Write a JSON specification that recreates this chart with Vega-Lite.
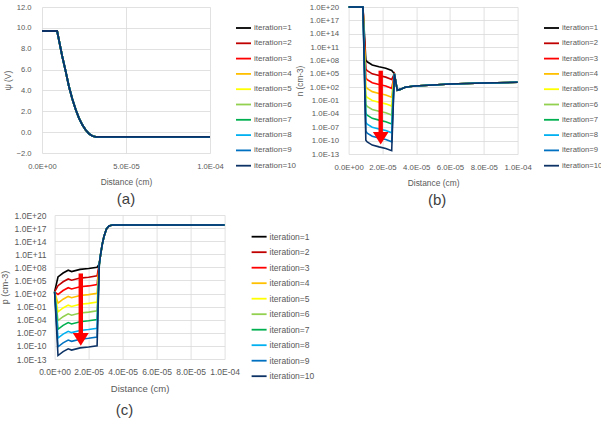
{
"$schema":"https://vega.github.io/schema/vega-lite/v6.json",
"background":"white",
"padding":{"left":0,"top":3,"right":0,"bottom":0},
"config":{"font":"Liberation Sans","view":{"stroke":null},
"axis":{"grid":true,"gridColor":"#D9D9D9","gridWidth":0.8,"domain":false,"ticks":false,"labelColor":"#595959","titleColor":"#595959","titleFontWeight":"normal","labelFlush":false,"labelFont":"Liberation Sans","titleFont":"Liberation Sans"},
"legend":{"symbolType":"stroke","symbolSize":225,"symbolStrokeWidth":1.8,"labelColor":"#595959","padding":0,"labelOffset":2,"labelLimit":100,"labelFont":"Liberation Sans"},
"title":{"font":"Liberation Sans"}},
"datasets":{
"a":[
{"i":1,"x":0,"v":9.7},{"i":1,"x":9e-6,"v":9.7},{"i":1,"x":1e-5,"v":8.9},{"i":1,"x":1.2e-5,"v":7.3},{"i":1,"x":1.4e-5,"v":5.9},{"i":1,"x":1.6e-5,"v":4.4},{"i":1,"x":1.8e-5,"v":3.2},{"i":1,"x":2e-5,"v":2.2},{"i":1,"x":2.2e-5,"v":1.35},{"i":1,"x":2.4e-5,"v":0.7},{"i":1,"x":2.6e-5,"v":0.2},{"i":1,"x":2.8e-5,"v":-0.15},{"i":1,"x":3e-5,"v":-0.37},{"i":1,"x":3.2e-5,"v":-0.45},{"i":1,"x":1e-4,"v":-0.45},
{"i":2,"x":0,"v":9.7},{"i":2,"x":9e-6,"v":9.7},{"i":2,"x":1e-5,"v":8.9},{"i":2,"x":1.2e-5,"v":7.3},{"i":2,"x":1.4e-5,"v":5.9},{"i":2,"x":1.6e-5,"v":4.4},{"i":2,"x":1.8e-5,"v":3.2},{"i":2,"x":2e-5,"v":2.2},{"i":2,"x":2.2e-5,"v":1.35},{"i":2,"x":2.4e-5,"v":0.7},{"i":2,"x":2.6e-5,"v":0.2},{"i":2,"x":2.8e-5,"v":-0.15},{"i":2,"x":3e-5,"v":-0.37},{"i":2,"x":3.2e-5,"v":-0.45},{"i":2,"x":1e-4,"v":-0.45},
{"i":3,"x":0,"v":9.7},{"i":3,"x":9e-6,"v":9.7},{"i":3,"x":1e-5,"v":8.9},{"i":3,"x":1.2e-5,"v":7.3},{"i":3,"x":1.4e-5,"v":5.9},{"i":3,"x":1.6e-5,"v":4.4},{"i":3,"x":1.8e-5,"v":3.2},{"i":3,"x":2e-5,"v":2.2},{"i":3,"x":2.2e-5,"v":1.35},{"i":3,"x":2.4e-5,"v":0.7},{"i":3,"x":2.6e-5,"v":0.2},{"i":3,"x":2.8e-5,"v":-0.15},{"i":3,"x":3e-5,"v":-0.37},{"i":3,"x":3.2e-5,"v":-0.45},{"i":3,"x":1e-4,"v":-0.45},
{"i":4,"x":0,"v":9.7},{"i":4,"x":9e-6,"v":9.7},{"i":4,"x":1e-5,"v":8.9},{"i":4,"x":1.2e-5,"v":7.3},{"i":4,"x":1.4e-5,"v":5.9},{"i":4,"x":1.6e-5,"v":4.4},{"i":4,"x":1.8e-5,"v":3.2},{"i":4,"x":2e-5,"v":2.2},{"i":4,"x":2.2e-5,"v":1.35},{"i":4,"x":2.4e-5,"v":0.7},{"i":4,"x":2.6e-5,"v":0.2},{"i":4,"x":2.8e-5,"v":-0.15},{"i":4,"x":3e-5,"v":-0.37},{"i":4,"x":3.2e-5,"v":-0.45},{"i":4,"x":1e-4,"v":-0.45},
{"i":5,"x":0,"v":9.7},{"i":5,"x":9e-6,"v":9.7},{"i":5,"x":1e-5,"v":8.9},{"i":5,"x":1.2e-5,"v":7.3},{"i":5,"x":1.4e-5,"v":5.9},{"i":5,"x":1.6e-5,"v":4.4},{"i":5,"x":1.8e-5,"v":3.2},{"i":5,"x":2e-5,"v":2.2},{"i":5,"x":2.2e-5,"v":1.35},{"i":5,"x":2.4e-5,"v":0.7},{"i":5,"x":2.6e-5,"v":0.2},{"i":5,"x":2.8e-5,"v":-0.15},{"i":5,"x":3e-5,"v":-0.37},{"i":5,"x":3.2e-5,"v":-0.45},{"i":5,"x":1e-4,"v":-0.45},
{"i":6,"x":0,"v":9.7},{"i":6,"x":9e-6,"v":9.7},{"i":6,"x":1e-5,"v":8.9},{"i":6,"x":1.2e-5,"v":7.3},{"i":6,"x":1.4e-5,"v":5.9},{"i":6,"x":1.6e-5,"v":4.4},{"i":6,"x":1.8e-5,"v":3.2},{"i":6,"x":2e-5,"v":2.2},{"i":6,"x":2.2e-5,"v":1.35},{"i":6,"x":2.4e-5,"v":0.7},{"i":6,"x":2.6e-5,"v":0.2},{"i":6,"x":2.8e-5,"v":-0.15},{"i":6,"x":3e-5,"v":-0.37},{"i":6,"x":3.2e-5,"v":-0.45},{"i":6,"x":1e-4,"v":-0.45},
{"i":7,"x":0,"v":9.7},{"i":7,"x":9e-6,"v":9.7},{"i":7,"x":1e-5,"v":8.9},{"i":7,"x":1.2e-5,"v":7.3},{"i":7,"x":1.4e-5,"v":5.9},{"i":7,"x":1.6e-5,"v":4.4},{"i":7,"x":1.8e-5,"v":3.2},{"i":7,"x":2e-5,"v":2.2},{"i":7,"x":2.2e-5,"v":1.35},{"i":7,"x":2.4e-5,"v":0.7},{"i":7,"x":2.6e-5,"v":0.2},{"i":7,"x":2.8e-5,"v":-0.15},{"i":7,"x":3e-5,"v":-0.37},{"i":7,"x":3.2e-5,"v":-0.45},{"i":7,"x":1e-4,"v":-0.45},
{"i":8,"x":0,"v":9.7},{"i":8,"x":9e-6,"v":9.7},{"i":8,"x":1e-5,"v":8.9},{"i":8,"x":1.2e-5,"v":7.3},{"i":8,"x":1.4e-5,"v":5.9},{"i":8,"x":1.6e-5,"v":4.4},{"i":8,"x":1.8e-5,"v":3.2},{"i":8,"x":2e-5,"v":2.2},{"i":8,"x":2.2e-5,"v":1.35},{"i":8,"x":2.4e-5,"v":0.7},{"i":8,"x":2.6e-5,"v":0.2},{"i":8,"x":2.8e-5,"v":-0.15},{"i":8,"x":3e-5,"v":-0.37},{"i":8,"x":3.2e-5,"v":-0.45},{"i":8,"x":1e-4,"v":-0.45},
{"i":9,"x":0,"v":9.7},{"i":9,"x":9e-6,"v":9.7},{"i":9,"x":1e-5,"v":8.9},{"i":9,"x":1.2e-5,"v":7.3},{"i":9,"x":1.4e-5,"v":5.9},{"i":9,"x":1.6e-5,"v":4.4},{"i":9,"x":1.8e-5,"v":3.2},{"i":9,"x":2e-5,"v":2.2},{"i":9,"x":2.2e-5,"v":1.35},{"i":9,"x":2.4e-5,"v":0.7},{"i":9,"x":2.6e-5,"v":0.2},{"i":9,"x":2.8e-5,"v":-0.15},{"i":9,"x":3e-5,"v":-0.37},{"i":9,"x":3.2e-5,"v":-0.45},{"i":9,"x":1e-4,"v":-0.45},
{"i":10,"x":0,"v":9.7},{"i":10,"x":9e-6,"v":9.7},{"i":10,"x":1e-5,"v":8.9},{"i":10,"x":1.2e-5,"v":7.3},{"i":10,"x":1.4e-5,"v":5.9},{"i":10,"x":1.6e-5,"v":4.4},{"i":10,"x":1.8e-5,"v":3.2},{"i":10,"x":2e-5,"v":2.2},{"i":10,"x":2.2e-5,"v":1.35},{"i":10,"x":2.4e-5,"v":0.7},{"i":10,"x":2.6e-5,"v":0.2},{"i":10,"x":2.8e-5,"v":-0.15},{"i":10,"x":3e-5,"v":-0.37},{"i":10,"x":3.2e-5,"v":-0.45},{"i":10,"x":1e-4,"v":-0.45}
],
"b":[
{"i":1,"x":0,"v":1e20},{"i":1,"x":8.5e-6,"v":1e20},{"i":1,"x":1.02e-5,"v":1.3e8},{"i":1,"x":1.1e-5,"v":5e7},{"i":1,"x":1.4e-5,"v":1e7},{"i":1,"x":1.8e-5,"v":4e6},{"i":1,"x":2.2e-5,"v":1.8e6},{"i":1,"x":2.55e-5,"v":5.6e5},{"i":1,"x":2.71e-5,"v":1e5},{"i":1,"x":2.88e-5,"v":20},{"i":1,"x":3.05e-5,"v":32},{"i":1,"x":3.35e-5,"v":100},{"i":1,"x":3.9e-5,"v":180},{"i":1,"x":5e-5,"v":320},{"i":1,"x":6e-5,"v":500},{"i":1,"x":8e-5,"v":890},{"i":1,"x":1e-4,"v":1260},
{"i":2,"x":0,"v":1e20},{"i":2,"x":8.5e-6,"v":1e20},{"i":2,"x":1.02e-5,"v":1.3e6},{"i":2,"x":1.1e-5,"v":5e5},{"i":2,"x":1.4e-5,"v":1e5},{"i":2,"x":1.8e-5,"v":4e4},{"i":2,"x":2.2e-5,"v":1.8e4},{"i":2,"x":2.55e-5,"v":5.6e3},{"i":2,"x":2.71e-5,"v":1e5},{"i":2,"x":2.88e-5,"v":20},{"i":2,"x":3.05e-5,"v":32},{"i":2,"x":3.35e-5,"v":100},{"i":2,"x":3.9e-5,"v":180},{"i":2,"x":5e-5,"v":320},{"i":2,"x":6e-5,"v":500},{"i":2,"x":8e-5,"v":890},{"i":2,"x":1e-4,"v":1260},
{"i":3,"x":0,"v":1e20},{"i":3,"x":8.5e-6,"v":1e20},{"i":3,"x":1.02e-5,"v":1.3e4},{"i":3,"x":1.1e-5,"v":5e3},{"i":3,"x":1.4e-5,"v":1e3},{"i":3,"x":1.8e-5,"v":400},{"i":3,"x":2.2e-5,"v":180},{"i":3,"x":2.55e-5,"v":56},{"i":3,"x":2.71e-5,"v":1e5},{"i":3,"x":2.88e-5,"v":20},{"i":3,"x":3.05e-5,"v":32},{"i":3,"x":3.35e-5,"v":100},{"i":3,"x":3.9e-5,"v":180},{"i":3,"x":5e-5,"v":320},{"i":3,"x":6e-5,"v":500},{"i":3,"x":8e-5,"v":890},{"i":3,"x":1e-4,"v":1260},
{"i":4,"x":0,"v":1e20},{"i":4,"x":8.5e-6,"v":1e20},{"i":4,"x":1.02e-5,"v":130},{"i":4,"x":1.1e-5,"v":50},{"i":4,"x":1.4e-5,"v":10},{"i":4,"x":1.8e-5,"v":4},{"i":4,"x":2.2e-5,"v":1.8},{"i":4,"x":2.55e-5,"v":0.56},{"i":4,"x":2.71e-5,"v":1e5},{"i":4,"x":2.88e-5,"v":20},{"i":4,"x":3.05e-5,"v":32},{"i":4,"x":3.35e-5,"v":100},{"i":4,"x":3.9e-5,"v":180},{"i":4,"x":5e-5,"v":320},{"i":4,"x":6e-5,"v":500},{"i":4,"x":8e-5,"v":890},{"i":4,"x":1e-4,"v":1260},
{"i":5,"x":0,"v":1e20},{"i":5,"x":8.5e-6,"v":1e20},{"i":5,"x":1.02e-5,"v":1.3},{"i":5,"x":1.1e-5,"v":0.5},{"i":5,"x":1.4e-5,"v":0.1},{"i":5,"x":1.8e-5,"v":0.04},{"i":5,"x":2.2e-5,"v":0.018},{"i":5,"x":2.55e-5,"v":0.0056},{"i":5,"x":2.71e-5,"v":1e5},{"i":5,"x":2.88e-5,"v":20},{"i":5,"x":3.05e-5,"v":32},{"i":5,"x":3.35e-5,"v":100},{"i":5,"x":3.9e-5,"v":180},{"i":5,"x":5e-5,"v":320},{"i":5,"x":6e-5,"v":500},{"i":5,"x":8e-5,"v":890},{"i":5,"x":1e-4,"v":1260},
{"i":6,"x":0,"v":1e20},{"i":6,"x":8.5e-6,"v":1e20},{"i":6,"x":1.02e-5,"v":1.3e-2},{"i":6,"x":1.1e-5,"v":5e-3},{"i":6,"x":1.4e-5,"v":1e-3},{"i":6,"x":1.8e-5,"v":4e-4},{"i":6,"x":2.2e-5,"v":1.8e-4},{"i":6,"x":2.55e-5,"v":5.6e-5},{"i":6,"x":2.71e-5,"v":1e5},{"i":6,"x":2.88e-5,"v":20},{"i":6,"x":3.05e-5,"v":32},{"i":6,"x":3.35e-5,"v":100},{"i":6,"x":3.9e-5,"v":180},{"i":6,"x":5e-5,"v":320},{"i":6,"x":6e-5,"v":500},{"i":6,"x":8e-5,"v":890},{"i":6,"x":1e-4,"v":1260},
{"i":7,"x":0,"v":1e20},{"i":7,"x":8.5e-6,"v":1e20},{"i":7,"x":1.02e-5,"v":1.3e-4},{"i":7,"x":1.1e-5,"v":5e-5},{"i":7,"x":1.4e-5,"v":1e-5},{"i":7,"x":1.8e-5,"v":4e-6},{"i":7,"x":2.2e-5,"v":1.8e-6},{"i":7,"x":2.55e-5,"v":5.6e-7},{"i":7,"x":2.71e-5,"v":1e5},{"i":7,"x":2.88e-5,"v":20},{"i":7,"x":3.05e-5,"v":32},{"i":7,"x":3.35e-5,"v":100},{"i":7,"x":3.9e-5,"v":180},{"i":7,"x":5e-5,"v":320},{"i":7,"x":6e-5,"v":500},{"i":7,"x":8e-5,"v":890},{"i":7,"x":1e-4,"v":1260},
{"i":8,"x":0,"v":1e20},{"i":8,"x":8.5e-6,"v":1e20},{"i":8,"x":1.02e-5,"v":1.3e-6},{"i":8,"x":1.1e-5,"v":5e-7},{"i":8,"x":1.4e-5,"v":1e-7},{"i":8,"x":1.8e-5,"v":4e-8},{"i":8,"x":2.2e-5,"v":1.8e-8},{"i":8,"x":2.55e-5,"v":5.6e-9},{"i":8,"x":2.71e-5,"v":1e5},{"i":8,"x":2.88e-5,"v":20},{"i":8,"x":3.05e-5,"v":32},{"i":8,"x":3.35e-5,"v":100},{"i":8,"x":3.9e-5,"v":180},{"i":8,"x":5e-5,"v":320},{"i":8,"x":6e-5,"v":500},{"i":8,"x":8e-5,"v":890},{"i":8,"x":1e-4,"v":1260},
{"i":9,"x":0,"v":1e20},{"i":9,"x":8.5e-6,"v":1e20},{"i":9,"x":1.02e-5,"v":1.3e-8},{"i":9,"x":1.1e-5,"v":5e-9},{"i":9,"x":1.4e-5,"v":1e-9},{"i":9,"x":1.8e-5,"v":4e-10},{"i":9,"x":2.2e-5,"v":1.8e-10},{"i":9,"x":2.55e-5,"v":5.6e-11},{"i":9,"x":2.71e-5,"v":1e5},{"i":9,"x":2.88e-5,"v":20},{"i":9,"x":3.05e-5,"v":32},{"i":9,"x":3.35e-5,"v":100},{"i":9,"x":3.9e-5,"v":180},{"i":9,"x":5e-5,"v":320},{"i":9,"x":6e-5,"v":500},{"i":9,"x":8e-5,"v":890},{"i":9,"x":1e-4,"v":1260},
{"i":10,"x":0,"v":1e20},{"i":10,"x":8.5e-6,"v":1e20},{"i":10,"x":1.02e-5,"v":1.3e-10},{"i":10,"x":1.1e-5,"v":5e-11},{"i":10,"x":1.4e-5,"v":1e-11},{"i":10,"x":1.8e-5,"v":4e-12},{"i":10,"x":2.2e-5,"v":1.8e-12},{"i":10,"x":2.55e-5,"v":5.6e-13},{"i":10,"x":2.71e-5,"v":1e5},{"i":10,"x":2.88e-5,"v":20},{"i":10,"x":3.05e-5,"v":32},{"i":10,"x":3.35e-5,"v":100},{"i":10,"x":3.9e-5,"v":180},{"i":10,"x":5e-5,"v":320},{"i":10,"x":6e-5,"v":500},{"i":10,"x":8e-5,"v":890},{"i":10,"x":1e-4,"v":1260}
],
"c":[
{"i":1,"x":0,"v":250},{"i":1,"x":2e-6,"v":6.3e5},{"i":1,"x":5e-6,"v":5e6},{"i":1,"x":8e-6,"v":2.2e7},{"i":1,"x":1e-5,"v":1.1e7},{"i":1,"x":1.5e-5,"v":3.5e7},{"i":1,"x":2e-5,"v":5.6e7},{"i":1,"x":2.5e-5,"v":1.1e8},{"i":1,"x":2.63e-5,"v":6.3e8},{"i":1,"x":2.7e-5,"v":6.3e10},{"i":1,"x":2.8e-5,"v":1.6e13},{"i":1,"x":2.9e-5,"v":1e15},{"i":1,"x":3.05e-5,"v":6.3e16},{"i":1,"x":3.2e-5,"v":3.2e17},{"i":1,"x":3.4e-5,"v":5e17},{"i":1,"x":1e-4,"v":5e17},
{"i":2,"x":0,"v":250},{"i":2,"x":2e-6,"v":6.3e3},{"i":2,"x":5e-6,"v":5e4},{"i":2,"x":8e-6,"v":2.2e5},{"i":2,"x":1e-5,"v":1.1e5},{"i":2,"x":1.5e-5,"v":3.5e5},{"i":2,"x":2e-5,"v":5.6e5},{"i":2,"x":2.5e-5,"v":1.1e6},{"i":2,"x":2.63e-5,"v":6.3e8},{"i":2,"x":2.7e-5,"v":6.3e10},{"i":2,"x":2.8e-5,"v":1.6e13},{"i":2,"x":2.9e-5,"v":1e15},{"i":2,"x":3.05e-5,"v":6.3e16},{"i":2,"x":3.2e-5,"v":3.2e17},{"i":2,"x":3.4e-5,"v":5e17},{"i":2,"x":1e-4,"v":5e17},
{"i":3,"x":0,"v":250},{"i":3,"x":2e-6,"v":63},{"i":3,"x":5e-6,"v":500},{"i":3,"x":8e-6,"v":2.2e3},{"i":3,"x":1e-5,"v":1.1e3},{"i":3,"x":1.5e-5,"v":3.5e3},{"i":3,"x":2e-5,"v":5.6e3},{"i":3,"x":2.5e-5,"v":1.1e4},{"i":3,"x":2.63e-5,"v":6.3e8},{"i":3,"x":2.7e-5,"v":6.3e10},{"i":3,"x":2.8e-5,"v":1.6e13},{"i":3,"x":2.9e-5,"v":1e15},{"i":3,"x":3.05e-5,"v":6.3e16},{"i":3,"x":3.2e-5,"v":3.2e17},{"i":3,"x":3.4e-5,"v":5e17},{"i":3,"x":1e-4,"v":5e17},
{"i":4,"x":0,"v":250},{"i":4,"x":2e-6,"v":0.63},{"i":4,"x":5e-6,"v":5},{"i":4,"x":8e-6,"v":22},{"i":4,"x":1e-5,"v":11},{"i":4,"x":1.5e-5,"v":35},{"i":4,"x":2e-5,"v":56},{"i":4,"x":2.5e-5,"v":110},{"i":4,"x":2.63e-5,"v":6.3e8},{"i":4,"x":2.7e-5,"v":6.3e10},{"i":4,"x":2.8e-5,"v":1.6e13},{"i":4,"x":2.9e-5,"v":1e15},{"i":4,"x":3.05e-5,"v":6.3e16},{"i":4,"x":3.2e-5,"v":3.2e17},{"i":4,"x":3.4e-5,"v":5e17},{"i":4,"x":1e-4,"v":5e17},
{"i":5,"x":0,"v":250},{"i":5,"x":2e-6,"v":6.3e-3},{"i":5,"x":5e-6,"v":0.05},{"i":5,"x":8e-6,"v":0.22},{"i":5,"x":1e-5,"v":0.11},{"i":5,"x":1.5e-5,"v":0.35},{"i":5,"x":2e-5,"v":0.56},{"i":5,"x":2.5e-5,"v":1.1},{"i":5,"x":2.63e-5,"v":6.3e8},{"i":5,"x":2.7e-5,"v":6.3e10},{"i":5,"x":2.8e-5,"v":1.6e13},{"i":5,"x":2.9e-5,"v":1e15},{"i":5,"x":3.05e-5,"v":6.3e16},{"i":5,"x":3.2e-5,"v":3.2e17},{"i":5,"x":3.4e-5,"v":5e17},{"i":5,"x":1e-4,"v":5e17},
{"i":6,"x":0,"v":250},{"i":6,"x":2e-6,"v":6.3e-5},{"i":6,"x":5e-6,"v":5e-4},{"i":6,"x":8e-6,"v":2.2e-3},{"i":6,"x":1e-5,"v":1.1e-3},{"i":6,"x":1.5e-5,"v":3.5e-3},{"i":6,"x":2e-5,"v":5.6e-3},{"i":6,"x":2.5e-5,"v":1.1e-2},{"i":6,"x":2.63e-5,"v":6.3e8},{"i":6,"x":2.7e-5,"v":6.3e10},{"i":6,"x":2.8e-5,"v":1.6e13},{"i":6,"x":2.9e-5,"v":1e15},{"i":6,"x":3.05e-5,"v":6.3e16},{"i":6,"x":3.2e-5,"v":3.2e17},{"i":6,"x":3.4e-5,"v":5e17},{"i":6,"x":1e-4,"v":5e17},
{"i":7,"x":0,"v":250},{"i":7,"x":2e-6,"v":6.3e-7},{"i":7,"x":5e-6,"v":5e-6},{"i":7,"x":8e-6,"v":2.2e-5},{"i":7,"x":1e-5,"v":1.1e-5},{"i":7,"x":1.5e-5,"v":3.5e-5},{"i":7,"x":2e-5,"v":5.6e-5},{"i":7,"x":2.5e-5,"v":1.1e-4},{"i":7,"x":2.63e-5,"v":6.3e8},{"i":7,"x":2.7e-5,"v":6.3e10},{"i":7,"x":2.8e-5,"v":1.6e13},{"i":7,"x":2.9e-5,"v":1e15},{"i":7,"x":3.05e-5,"v":6.3e16},{"i":7,"x":3.2e-5,"v":3.2e17},{"i":7,"x":3.4e-5,"v":5e17},{"i":7,"x":1e-4,"v":5e17},
{"i":8,"x":0,"v":250},{"i":8,"x":2e-6,"v":6.3e-9},{"i":8,"x":5e-6,"v":5e-8},{"i":8,"x":8e-6,"v":2.2e-7},{"i":8,"x":1e-5,"v":1.1e-7},{"i":8,"x":1.5e-5,"v":3.5e-7},{"i":8,"x":2e-5,"v":5.6e-7},{"i":8,"x":2.5e-5,"v":1.1e-6},{"i":8,"x":2.63e-5,"v":6.3e8},{"i":8,"x":2.7e-5,"v":6.3e10},{"i":8,"x":2.8e-5,"v":1.6e13},{"i":8,"x":2.9e-5,"v":1e15},{"i":8,"x":3.05e-5,"v":6.3e16},{"i":8,"x":3.2e-5,"v":3.2e17},{"i":8,"x":3.4e-5,"v":5e17},{"i":8,"x":1e-4,"v":5e17},
{"i":9,"x":0,"v":250},{"i":9,"x":2e-6,"v":6.3e-11},{"i":9,"x":5e-6,"v":5e-10},{"i":9,"x":8e-6,"v":2.2e-9},{"i":9,"x":1e-5,"v":1.1e-9},{"i":9,"x":1.5e-5,"v":3.5e-9},{"i":9,"x":2e-5,"v":5.6e-9},{"i":9,"x":2.5e-5,"v":1.1e-8},{"i":9,"x":2.63e-5,"v":6.3e8},{"i":9,"x":2.7e-5,"v":6.3e10},{"i":9,"x":2.8e-5,"v":1.6e13},{"i":9,"x":2.9e-5,"v":1e15},{"i":9,"x":3.05e-5,"v":6.3e16},{"i":9,"x":3.2e-5,"v":3.2e17},{"i":9,"x":3.4e-5,"v":5e17},{"i":9,"x":1e-4,"v":5e17},
{"i":10,"x":0,"v":250},{"i":10,"x":2e-6,"v":6.3e-13},{"i":10,"x":5e-6,"v":5e-12},{"i":10,"x":8e-6,"v":2.2e-11},{"i":10,"x":1e-5,"v":1.1e-11},{"i":10,"x":1.5e-5,"v":3.5e-11},{"i":10,"x":2e-5,"v":5.6e-11},{"i":10,"x":2.5e-5,"v":1.1e-10},{"i":10,"x":2.63e-5,"v":6.3e8},{"i":10,"x":2.7e-5,"v":6.3e10},{"i":10,"x":2.8e-5,"v":1.6e13},{"i":10,"x":2.9e-5,"v":1e15},{"i":10,"x":3.05e-5,"v":6.3e16},{"i":10,"x":3.2e-5,"v":3.2e17},{"i":10,"x":3.4e-5,"v":5e17},{"i":10,"x":1e-4,"v":5e17}
],
"arrowB":[{"x":1.9e-5,"top":5e5,"base":3.2e-9,"head":3.5e-10}],
"arrowC":[{"x":1.54e-5,"top":4e6,"base":3.2e-8,"head":3.2e-9}]
},
"spacing":3,
"resolve":{"scale":{"color":"independent"},"legend":{"color":"independent"}},
"vconcat":[
{"hconcat":[
{"width":168,"height":146,
"title":{"text":"(a)","orient":"bottom","fontSize":15,"fontWeight":"normal","color":"#404040","frame":"group","anchor":"middle","offset":6},
"data":{"name":"a"},
"mark":{"type":"line","strokeWidth":1.8},
"encoding":{
"x":{"field":"x","type":"quantitative","scale":{"domain":[0,0.0001],"nice":false},"axis":{"values":[0,0.00005,0.0001],"labelOverlap":false,"labelExpr":"replace(replace(format(datum.value, '.1e'), 'e', 'E'), regexp('([+-])(?=[0-9]$)'), '$&0')","title":"Distance (cm)","labelFontSize":7.6,"titleFontSize":8.4,"labelPadding":9.5,"titlePadding":7}},
"y":{"field":"v","type":"quantitative","scale":{"domain":[-2,12],"nice":false,"zero":false},"axis":{"values":[-2,0,2,4,6,8,10,12],"labelOverlap":false,"format":".1f","title":"ψ (V)","labelFontSize":7.6,"titleFontSize":8.4,"labelPadding":11,"titlePadding":3.7}},
"color":{"field":"i","type":"nominal","scale":{"domain":[1,2,3,4,5,6,7,8,9,10],"range":["#000000","#C00000","#FF0000","#FFC000","#FFFF00","#92D050","#00B050","#00B0F0","#0070C0","#0D3366"]},
"legend":{"orient":"none","legendX":193,"legendY":12.5,"title":null,"labelFontSize":8,"rowPadding":2.3,"labelExpr":"'iteration=' + datum.label"}}
}},
{"width":169,"height":147,
"title":{"text":"(b)","orient":"bottom","fontSize":15,"fontWeight":"normal","color":"#404040","frame":"group","anchor":"middle","dx":4,"offset":6},
"resolve":{"axis":{"x":"independent","y":"independent"}},
"layer":[
{"data":{"name":"b"},"mark":{"type":"line","strokeWidth":1.6},
"encoding":{
"x":{"field":"x","type":"quantitative","scale":{"domain":[0,0.0001],"nice":false},"axis":{"values":[0,0.00002,0.00004,0.00006,0.00008,0.0001],"labelOverlap":false,"labelExpr":"replace(replace(format(datum.value, '.1e'), 'e', 'E'), regexp('([+-])(?=[0-9]$)'), '$&0')","title":"Distance (cm)","labelFontSize":7.8,"titleFontSize":8.4,"labelPadding":9.5,"titlePadding":7}},
"y":{"field":"v","type":"quantitative","scale":{"type":"log","domain":[1e-13,1e20],"nice":false},"axis":{"values":[1e20,1e17,1e14,1e11,1e8,1e5,100,0.1,1e-4,1e-7,1e-10,1e-13],"labelOverlap":false,"labelExpr":"replace(replace(format(datum.value, '.1e'), 'e', 'E'), regexp('([+-])(?=[0-9]$)'), '$&0')","title":"n (cm-3)","labelFontSize":7.8,"titleFontSize":8.2,"labelPadding":10,"titlePadding":5}},
"color":{"field":"i","type":"nominal","scale":{"domain":[1,2,3,4,5,6,7,8,9,10],"range":["#000000","#C00000","#FF0000","#FFC000","#FFFF00","#92D050","#00B050","#00B0F0","#0070C0","#0D3366"]},
"legend":{"orient":"none","legendX":194.4,"legendY":12.5,"title":null,"labelFontSize":7.7,"rowPadding":2.3,"labelExpr":"'iteration=' + datum.label"}}
}},
{"data":{"name":"arrowB"},"mark":{"type":"rule","color":"#FF0000","strokeWidth":4.4},"encoding":{"x":{"field":"x","type":"quantitative","axis":null},"y":{"field":"top","type":"quantitative","axis":null},"y2":{"field":"base"}}},
{"data":{"name":"arrowB"},"mark":{"type":"point","shape":"M-1,-0.8L1,-0.8L0,0.8Z","filled":true,"color":"#FF0000","opacity":1,"size":245,"strokeWidth":0},"encoding":{"x":{"field":"x","type":"quantitative","axis":null},"y":{"field":"head","type":"quantitative","axis":null}}}
]}
],"spacing":138.6,"bounds":"flush","resolve":{"scale":{"color":"independent"},"legend":{"color":"independent"}}},
{"hconcat":[
{"width":1,"height":144,"data":{"values":[]},"mark":{"type":"point","opacity":0},"encoding":{}},
{"width":170,"height":144,
"title":{"text":"(c)","orient":"bottom","fontSize":15,"fontWeight":"normal","color":"#404040","frame":"group","anchor":"middle","dx":-15,"offset":10},
"resolve":{"axis":{"x":"independent","y":"independent"}},
"layer":[
{"data":{"name":"c"},"mark":{"type":"line","strokeWidth":1.6},
"encoding":{
"x":{"field":"x","type":"quantitative","scale":{"domain":[0,0.0001],"nice":false},"axis":{"values":[0,0.00002,0.00004,0.00006,0.00008,0.0001],"labelOverlap":false,"labelExpr":"replace(replace(format(datum.value, '.1e'), 'e', 'E'), regexp('([+-])(?=[0-9]$)'), '$&0')","title":"Distance (cm)","labelFontSize":8.5,"titleFontSize":9.5,"labelPadding":8.7,"titlePadding":7.5}},
"y":{"field":"v","type":"quantitative","scale":{"type":"log","domain":[1e-13,1e20],"nice":false},"axis":{"values":[1e20,1e17,1e14,1e11,1e8,1e5,100,0.1,1e-4,1e-7,1e-10,1e-13],"labelOverlap":false,"labelExpr":"replace(replace(format(datum.value, '.1e'), 'e', 'E'), regexp('([+-])(?=[0-9]$)'), '$&0')","title":"p (cm-3)","labelFontSize":8.5,"titleFontSize":9,"labelPadding":8.6,"titlePadding":4.8}},
"color":{"field":"i","type":"nominal","scale":{"domain":[1,2,3,4,5,6,7,8,9,10],"range":["#000000","#C00000","#FF0000","#FFC000","#FFFF00","#92D050","#00B050","#00B0F0","#0070C0","#0D3366"]},
"legend":{"orient":"none","legendX":196,"legendY":13.2,"title":null,"labelFontSize":8.5,"rowPadding":2.5,"labelExpr":"'iteration=' + datum.label"}}
}},
{"data":{"name":"arrowC"},"mark":{"type":"rule","color":"#FF0000","strokeWidth":4.4},"encoding":{"x":{"field":"x","type":"quantitative","axis":null},"y":{"field":"top","type":"quantitative","axis":null},"y2":{"field":"base"}}},
{"data":{"name":"arrowC"},"mark":{"type":"point","shape":"M-1,-0.8L1,-0.8L0,0.8Z","filled":true,"color":"#FF0000","opacity":1,"size":256,"strokeWidth":0},"encoding":{"x":{"field":"x","type":"quantitative","axis":null},"y":{"field":"head","type":"quantitative","axis":null}}}
]}
],"spacing":11.6,"bounds":"flush","resolve":{"scale":{"color":"independent"},"legend":{"color":"independent"}}}
]
}
